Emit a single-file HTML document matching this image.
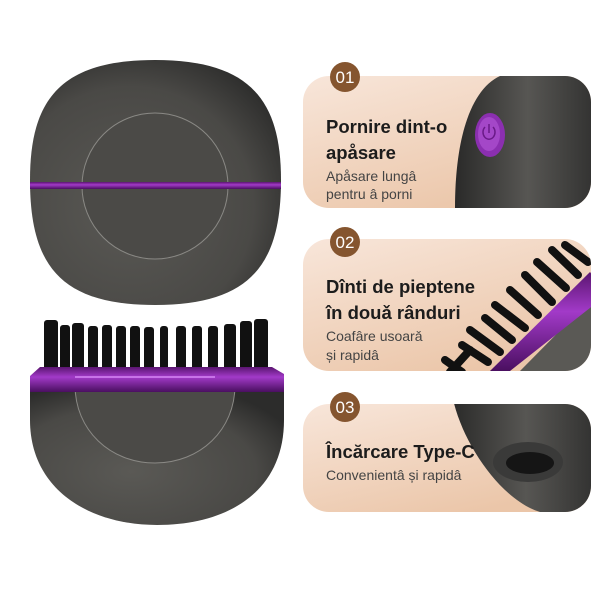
<!DOCTYPE html>
<html><head><meta charset="utf-8"><style>
body{margin:0;width:600px;height:600px;background:#fff;overflow:hidden;font-family:"Liberation Sans","DejaVu Sans",sans-serif}
</style></head><body>
<svg width="600" height="600" viewBox="0 0 600 600" xmlns="http://www.w3.org/2000/svg">
<defs>
<radialGradient id="body" cx="0.4" cy="0.6" r="0.7">
<stop offset="0" stop-color="#5a5955"/><stop offset="0.7" stop-color="#4a4946"/><stop offset="1" stop-color="#2c2c2b"/></radialGradient>
<linearGradient id="peach" x1="0" y1="0" x2="0.6" y2="1">
<stop offset="0" stop-color="#f8e6da"/><stop offset="1" stop-color="#ebc6a9"/></linearGradient>
<linearGradient id="purp" x1="0" y1="0" x2="0" y2="1">
<stop offset="0" stop-color="#5a1570"/><stop offset="0.4" stop-color="#a23ac8"/><stop offset="1" stop-color="#4a0f60"/></linearGradient>
<linearGradient id="dk" x1="0" y1="0" x2="1" y2="0">
<stop offset="0" stop-color="#2a2a29"/><stop offset="0.5" stop-color="#575653"/><stop offset="1" stop-color="#2f2f2e"/></linearGradient>
<clipPath id="c1"><rect x="303" y="76" width="288" height="132" rx="26"/></clipPath>
<clipPath id="c2"><rect x="303" y="239" width="288" height="132" rx="26"/></clipPath>
<clipPath id="c3"><rect x="303" y="404" width="288" height="108" rx="26"/></clipPath>
</defs>

<!-- top brush -->
<path d="M155 60 C250 60 281 100 281 180 C281 265 250 305 155 305 C60 305 30 265 30 180 C30 100 60 60 155 60Z" fill="url(#body)"/>
<circle cx="155" cy="186" r="73" fill="#4b4a47" stroke="#8a8985" stroke-width="1"/>
<rect x="30" y="182" width="251" height="7" fill="url(#purp)"/>

<!-- bottom brush bristles -->
<g fill="#111">
<rect x="44" y="320" width="14" height="52" rx="3"/>
<rect x="60" y="325" width="10" height="47" rx="3"/>
<rect x="72" y="323" width="12" height="49" rx="3"/>
<rect x="88" y="326" width="10" height="46" rx="3"/>
<rect x="102" y="325" width="10" height="47" rx="3"/>
<rect x="116" y="326" width="10" height="46" rx="3"/>
<rect x="130" y="326" width="10" height="46" rx="3"/>
<rect x="144" y="327" width="10" height="45" rx="3"/>
<rect x="160" y="326" width="8" height="46" rx="3"/>
<rect x="176" y="326" width="10" height="46" rx="3"/>
<rect x="192" y="326" width="10" height="46" rx="3"/>
<rect x="208" y="326" width="10" height="46" rx="3"/>
<rect x="224" y="324" width="12" height="48" rx="3"/>
<rect x="240" y="321" width="12" height="51" rx="3"/>
<rect x="254" y="319" width="14" height="53" rx="3"/>
</g>
<path d="M30 392 L284 392 L284 420 C284 490 230 525 157 525 C90 525 30 490 30 420Z" fill="url(#body)"/>
<path d="M75 385 L235 385 C235 430 200 463 155 463 C110 463 75 430 75 385Z" fill="#4b4a47" stroke="#8a8985" stroke-width="1"/>
<path d="M40 367 L272 367 L284 374 L284 392 L30 392 L30 376Z" fill="url(#purp)"/>
<rect x="75" y="376" width="140" height="2" fill="#c873e8"/>

<!-- panel 1 -->
<rect x="303" y="76" width="288" height="132" rx="26" fill="url(#peach)"/>
<g clip-path="url(#c1)">
<path d="M500 76 L600 76 L600 208 L455 208 C455 140 470 90 500 76Z" fill="url(#dk)"/>
<ellipse cx="490" cy="135" rx="15" ry="22" fill="#8b2fb0"/>
<ellipse cx="489" cy="134" rx="11" ry="17" fill="#a447c8"/>
<path d="M485 127 A6 7 0 1 0 493 127 M489 124 L489 133" stroke="#6a1a88" stroke-width="1.5" fill="none"/>
</g>
<circle cx="345" cy="77" r="15" fill="#85552f"/>
<text x="345" y="83" font-size="17" fill="#fff" text-anchor="middle">01</text>
<text x="326" y="133" font-size="18.5" font-weight="bold" fill="#1c1c1c">Pornire dint-o</text>
<text x="326" y="159" font-size="18.5" font-weight="bold" fill="#1c1c1c">apåsare</text>
<text x="326" y="181" font-size="14" fill="#444">Apåsare lungâ</text>
<text x="326" y="199" font-size="14" fill="#444">pentru â porni</text>

<!-- panel 2 -->
<rect x="303" y="239" width="288" height="132" rx="26" fill="url(#peach)"/>
<g clip-path="url(#c2)">
<path d="M520 371 L600 290 L600 371Z" fill="#5a5955"/>
<path d="M490 371 L590 272 L600 285 L600 300 L510 371Z" fill="url(#purp)"/>
<g stroke="#111" stroke-width="8" stroke-linecap="round">
<line x1="450" y1="372" x2="470" y2="350"/><line x1="462" y1="345" x2="488" y2="362"/>
<line x1="470" y1="330" x2="500" y2="352"/><line x1="485" y1="318" x2="512" y2="340"/>
<line x1="495" y1="305" x2="525" y2="328"/><line x1="510" y1="290" x2="538" y2="315"/>
<line x1="525" y1="275" x2="552" y2="302"/><line x1="537" y1="262" x2="566" y2="288"/>
<line x1="552" y1="250" x2="578" y2="275"/><line x1="565" y1="245" x2="588" y2="262"/>
<line x1="445" y1="360" x2="462" y2="372"/>
</g>
</g>
<circle cx="345" cy="242" r="15" fill="#85552f"/>
<text x="345" y="248" font-size="17" fill="#fff" text-anchor="middle">02</text>
<text x="326" y="293" font-size="18.5" font-weight="bold" fill="#1c1c1c">Dînti de pieptene</text>
<text x="326" y="319" font-size="18.5" font-weight="bold" fill="#1c1c1c">în douǎ rânduri</text>
<text x="326" y="341" font-size="14" fill="#444">Coafâre usoarǎ</text>
<text x="326" y="360" font-size="14" fill="#444">și rapidâ</text>

<!-- panel 3 -->
<rect x="303" y="404" width="288" height="108" rx="26" fill="url(#peach)"/>
<g clip-path="url(#c3)">
<path d="M452 394 L600 394 L600 512 L540 512 C500 500 460 440 452 394Z" fill="url(#dk)"/>
<ellipse cx="528" cy="462" rx="35" ry="20" fill="#3a3a39"/>
<ellipse cx="530" cy="463" rx="24" ry="11" fill="#151515"/>
</g>
<circle cx="345" cy="407" r="15" fill="#85552f"/>
<text x="345" y="413" font-size="17" fill="#fff" text-anchor="middle">03</text>
<text x="326" y="458" font-size="18.5" font-weight="bold" fill="#1c1c1c">Încărcare Type-C</text>
<text x="326" y="480" font-size="14" fill="#444">Convenientâ și rapidâ</text>
</svg>
</body></html>
